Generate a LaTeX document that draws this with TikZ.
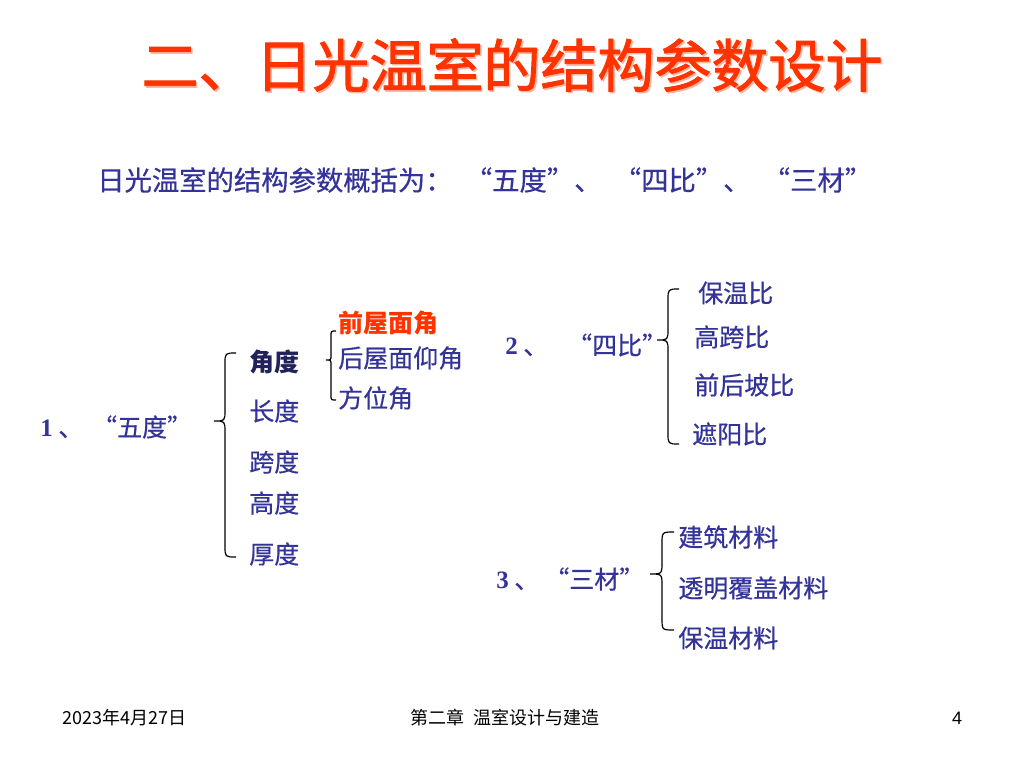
\documentclass[tikz,border=0pt]{standalone}
\usepackage{fontspec}
\newfontfamily\cjk{Noto Sans CJK SC}
\newfontfamily\cjkm{Noto Sans CJK SC}[FakeBold=0.5]
\newfontfamily\cjkt{Noto Sans CJK SC}[FakeBold=1.6]
\newfontfamily\numfont{Liberation Serif}
\newfontfamily\footfont{Liberation Sans}
\newcommand\myLq{{\addfontfeature{RawFeature=+fwid}“}}
\newcommand\myRq{{\addfontfeature{RawFeature=+fwid}”}}
\definecolor{titlered}{RGB}{255,51,0}
\definecolor{pptblue}{RGB}{51,51,153}
\definecolor{darkblue}{RGB}{34,34,90}
\newcommand\bracepath[5]{% x, ytop, ymid, ybot, w
  \draw[bracestyle] (#1+#5,#2) .. controls (#1,#2) .. (#1,#2+#5)
    -- (#1,#3-#5) .. controls (#1,#3) .. (#1-#5,#3)
    .. controls (#1,#3) .. (#1,#3+#5)
    -- (#1,#4-#5) .. controls (#1,#4) .. (#1+#5,#4);}
\begin{document}
\begin{tikzpicture}[x=0.75pt,y=-0.75pt,
  title/.style={font=\cjkt\fontsize{42.75}{50}\selectfont, text=titlered, inner sep=0},
  sub/.style={font=\cjkm\fontsize{20.5}{24}\selectfont, text=pptblue, inner sep=0, anchor=west},
  item/.style={font=\cjkm\fontsize{18.75}{22}\selectfont, text=pptblue, inner sep=0, anchor=west},
  head/.style={font=\cjkm\fontsize{18.75}{22}\selectfont, text=pptblue, inner sep=0, anchor=west},
  foot/.style={font=\cjk\fontsize{13.5}{16}\selectfont, text=black, inner sep=0},
  bracestyle/.style={draw=black, line width=0.9pt}]
\useasboundingbox[fill=white] (0,0) rectangle (1024,768);
% title
\node[title, text=titlered!35, xshift=1.2pt, yshift=-1.2pt] at (512,65) {二、日光温室的结构参数设计};
\node[title] (title) at (512,65) {二、日光温室的结构参数设计};
\node[sub] (sub) at (97,180) {日光温室的结构参数概括为：\hspace{0.45em}\myLq 五度\myRq 、\hspace{0.45em}\myLq 四比\myRq 、\hspace{0.45em}\myLq 三材\myRq};
% group 1
\node[head] (g1) at (40,427) {{\numfont\bfseries 1} 、\hspace{0.35em}\myLq 五度\myRq};
\bracepath{225}{353}{421}{557}{11}
\node[item, font=\cjk\bfseries\fontsize{18.75}{22}\selectfont, text=darkblue] (a1) at (249,362) {角度};
\node[item] (a2) at (249,411) {长度};
\node[item] (a3) at (249,462) {跨度};
\node[item] (a4) at (249,503) {高度};
\node[item] (a5) at (249,554) {厚度};
\bracepath{331}{331}{360}{400}{5}
\node[item, font=\cjk\bfseries\fontsize{18.75}{22}\selectfont, text=titlered] (b1) at (338,323) {前屋面角};
\node[item] (b2) at (338,358) {后屋面仰角};
\node[item] (b3) at (338,398) {方位角};
% group 2
\node[head] (g2) at (505,345) {{\numfont\bfseries 2} 、\hspace{0.75em}\myLq 四比\myRq};
\bracepath{668}{289}{340}{444}{11}
\node[item] (c1) at (698,293) {保温比};
\node[item] (c2) at (694,337) {高跨比};
\node[item] (c3) at (694,385) {前后坡比};
\node[item] (c4) at (692,434) {遮阳比};
% group 3
\node[head] (g3) at (496,579) {{\numfont\bfseries 3} 、\hspace{0.2em}\myLq 三材\myRq};
\bracepath{662}{532}{574}{630}{12}
\node[item] (d1) at (678,537) {建筑材料};
\node[item] (d2) at (678,588) {透明覆盖材料};
\node[item] (d3) at (678,638) {保温材料};
% footer
\node[foot, anchor=west] (date) at (62,718) {2023年4月27日};
\node[foot, anchor=west] (chap) at (410,718) {第二章\hspace{0.5em}温室设计与建造};
\node[foot, font=\footfont\fontsize{13.5}{16}\selectfont] (page) at (957,718) {4};
\end{tikzpicture}
\end{document}
